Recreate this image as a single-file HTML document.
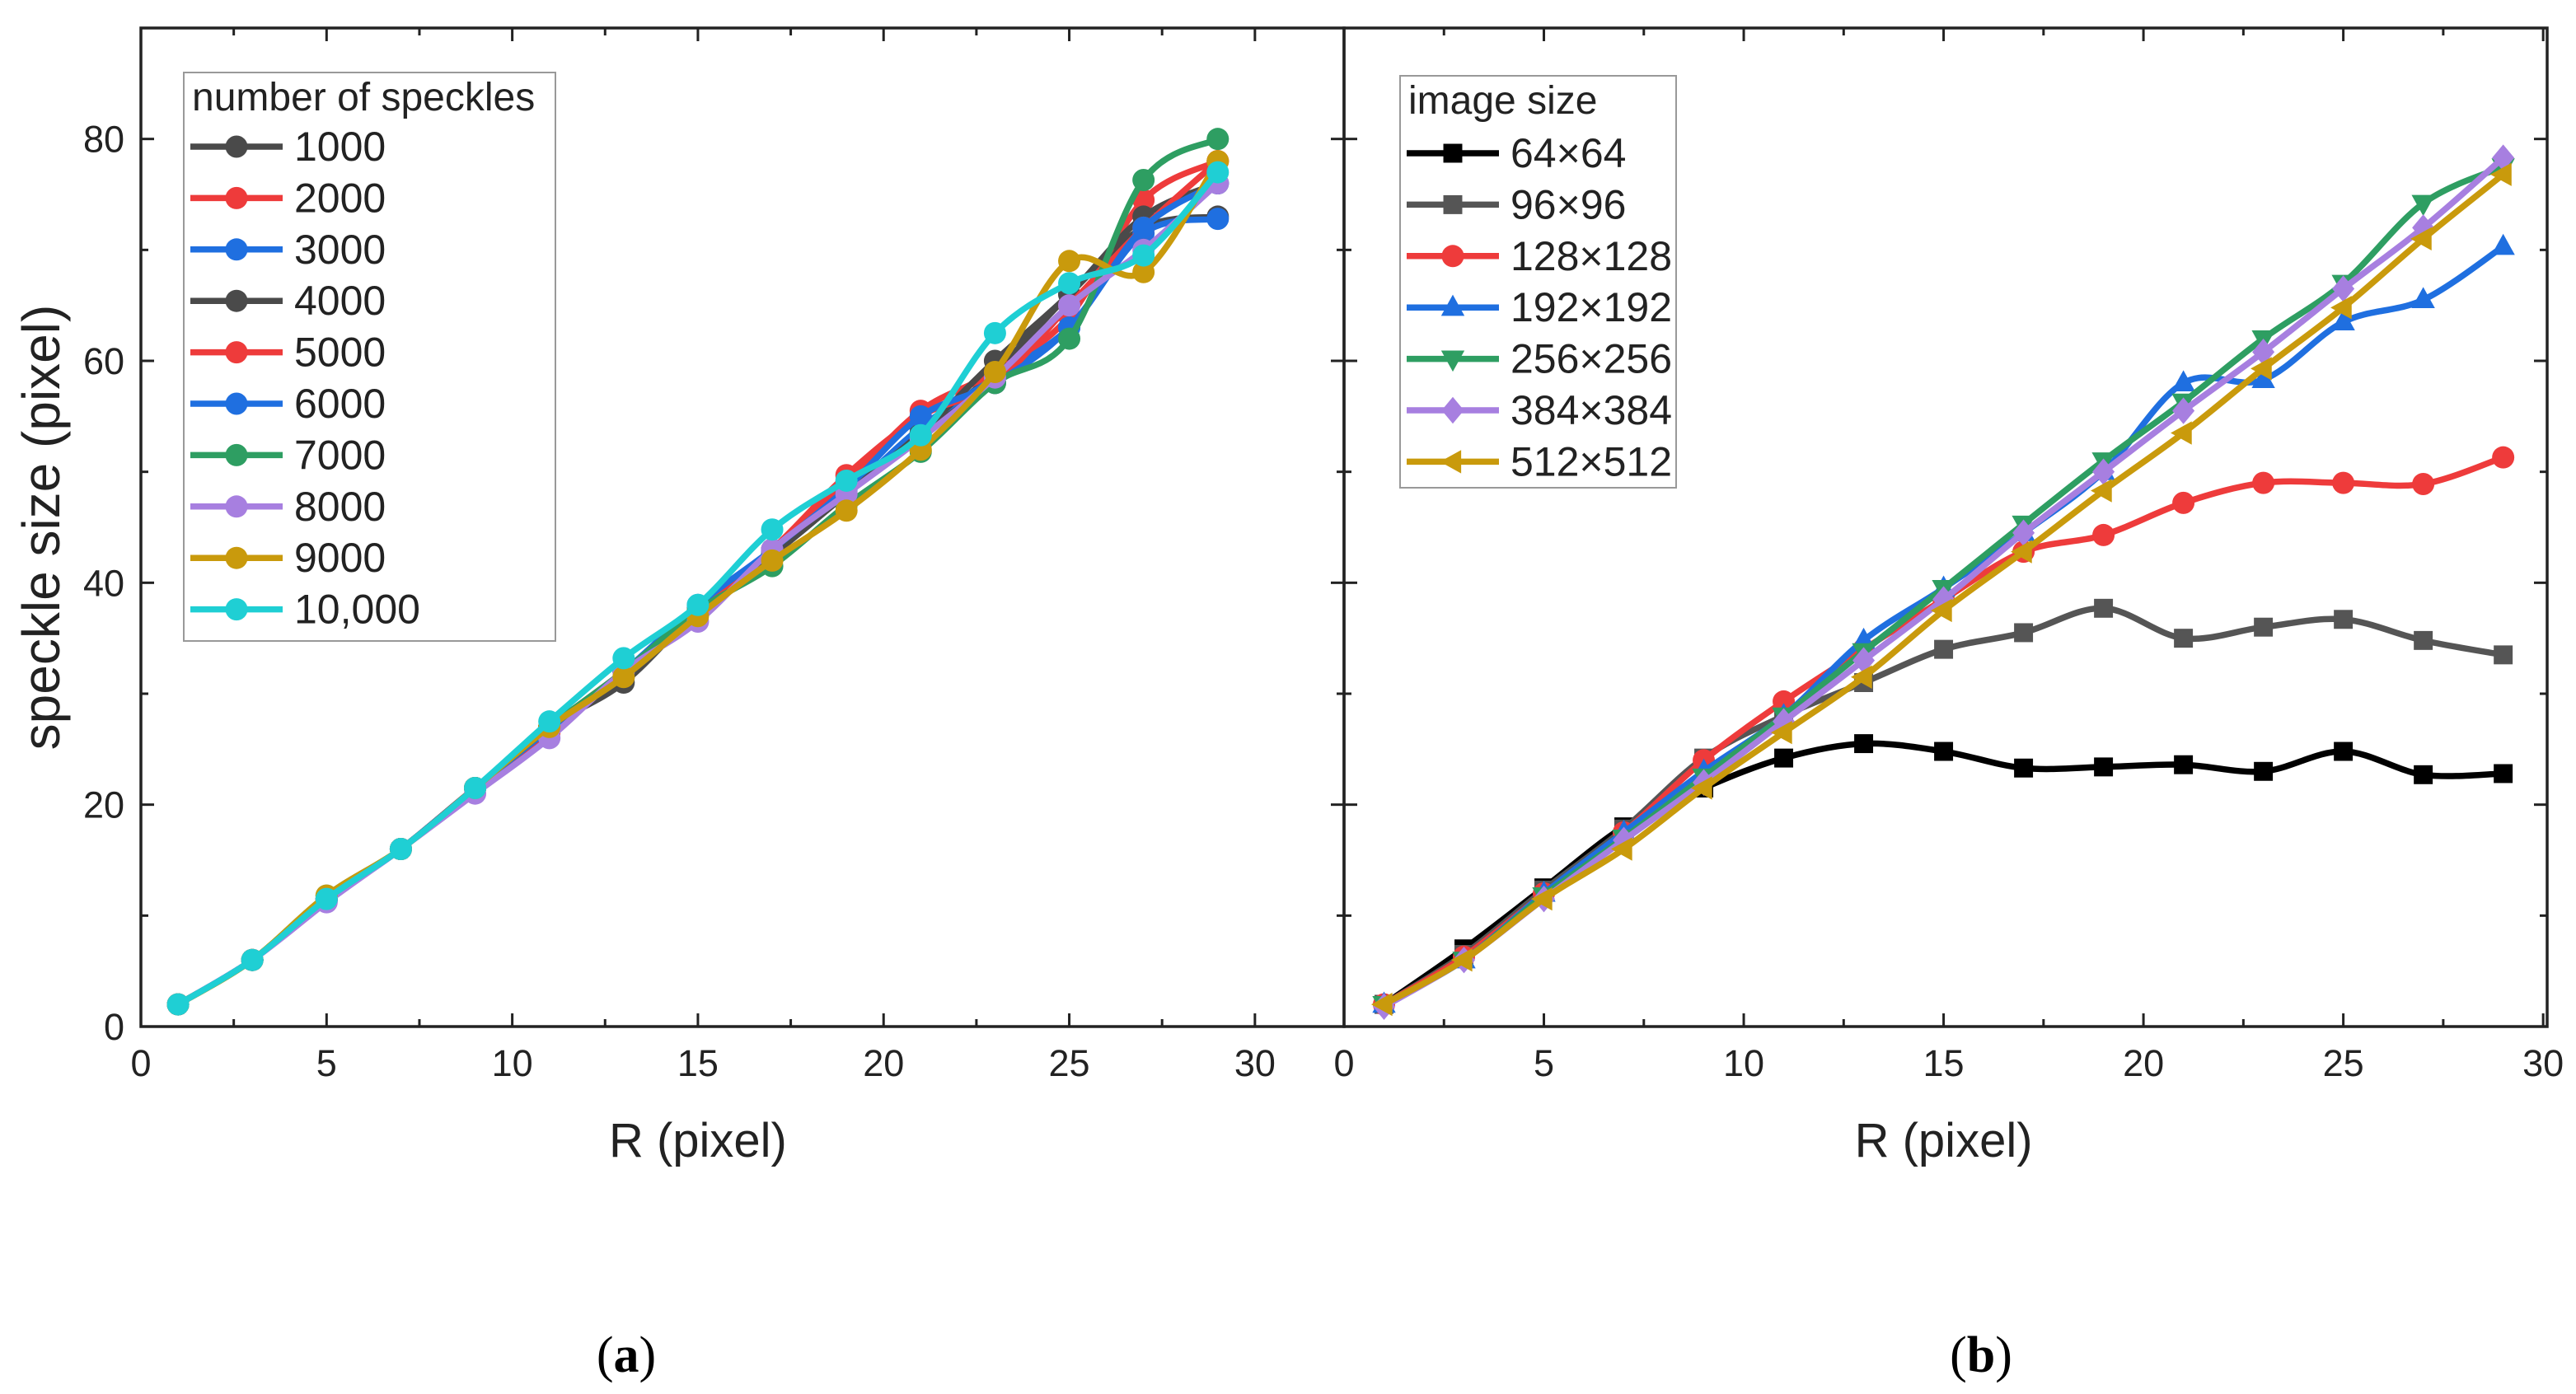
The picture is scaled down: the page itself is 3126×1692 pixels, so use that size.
<!DOCTYPE html>
<html><head><meta charset="utf-8">
<style>
html,body{margin:0;padding:0;background:#fff;}
svg{display:block;font-family:"Liberation Sans",Arial,sans-serif;}
</style></head>
<body>
<svg id="chart" width="3126" height="1692" viewBox="0 0 3126 1692" xmlns="http://www.w3.org/2000/svg">
<rect width="3126" height="1692" fill="#fff"/>
<g id="plotA"></g>
<g id="plotB"></g>
<text x="760" y="1665" font-family="Liberation Serif,serif" font-size="62" text-anchor="middle">(<tspan font-weight="bold">a</tspan>)</text>
<text x="2404" y="1665" font-family="Liberation Serif,serif" font-size="62" text-anchor="middle">(<tspan font-weight="bold">b</tspan>)</text>
</svg>
<script>
const xs = [1,3,5,7,9,11,13,15,17,19,21,23,25,27,29];
const namesA = ["1000","2000","3000","4000","5000","6000","7000","8000","9000","10,000"];
const s1000 = [2,6,11.5,16,21.5,27,31,37.5,42.5,48,53.5,59,66,72,73];
const s2000 = [2,6,11.5,16,21.5,26.5,32,37.5,43,49,55.5,59,64,74.5,78];
const s3000 = [2,6,11.3,16,21.5,26.8,32,37.5,42.8,48,54,58.5,63,71.5,72.8];
const s4000 = [2,6,11.5,16,21.5,27,31.5,37.8,42.5,48,53.5,60,66,73,76];
const s5000 = [2,6,11.5,16,21.5,27,32,37.5,43,49.7,55,58,65,72,78];
const s6000 = [2,6,11.5,16,21.5,27,32,38,43,48.5,55,58,63,72,76];
const s7000 = [2,6,11.8,16,21.5,27,32,37.5,41.5,47,51.8,58,62,76.3,80];
const s8000 = [2,6,11.2,16,21,26,32,36.5,43,48,53,58.5,65,70,76];
const s9000 = [2,6,11.8,16,21.5,27,31.5,37,42,46.5,52,59,69,68,78];
const s10000 = [2,6,11.5,16,21.5,27.5,33.2,38,44.8,49.2,53.3,62.5,67,69.5,77];
const seriesA = [s1000,s2000,s3000,s4000,s5000,s6000,s7000,s8000,s9000,s10000];
const colorsA = ["#4a4a4a","#ee3b3b","#1f6fe0","#4a4a4a","#ee3b3b","#1f6fe0","#2e9e62","#a77fe0","#c99a0c","#1fcfd4"];

const namesB = ["64×64","96×96","128×128","192×192","256×256","384×384","512×512"];
const b64 = [2,7,12.5,18,21.5,24.2,25.5,24.8,23.3,23.4,23.6,23,24.8,22.7,22.8];
const b96 = [2,6.5,12.3,17.8,24.2,28,31,34,35.5,37.7,35,36,36.7,34.8,33.5];
const b128 = [2,6.3,12,17.5,24,29.3,34,38.5,42.8,44.3,47.2,49,49,48.9,51.3];
const b192 = [2,6,12,17.5,23,28,34.8,39.5,44.5,50,58,58.3,63.5,65.5,70.3];
const b256 = [2,6,11.8,17,22.5,28,33.8,39.5,45.3,51,56.3,62,67,74.2,77.5];
const b384 = [1.8,6,11.5,16.8,22,27.5,33,38.5,44.5,50,55.5,60.8,66.5,72,78.3];
const b512 = [2,6,11.5,16,21.5,26.5,31.5,37.5,42.8,48.3,53.5,59.3,64.8,71,76.8];
const seriesB = [b64,b96,b128,b192,b256,b384,b512];
const colorsB = ["#000000","#555555","#ee3b3b","#1f6fe0","#2e9e62","#a77fe0","#c99a0c"];
const markersB = ["square","square","circle","up","down","diamond","left"];

const NS="http://www.w3.org/2000/svg";
function mk(tag,attrs,parent){const e=document.createElementNS(NS,tag);for(const k in attrs)e.setAttribute(k,attrs[k]);parent.appendChild(e);return e;}

function marker(g,type,cx,cy,color,r){
  let e;
  if(type==="circle") e=mk("circle",{cx:cx,cy:cy,r:r,fill:color},g);
  else if(type==="square") e=mk("rect",{x:cx-r*0.85,y:cy-r*0.85,width:r*1.7,height:r*1.7,fill:color},g);
  else {
    let p;
    if(type==="up") p=[[0,-1.15],[1.05,0.75],[-1.05,0.75]];
    else if(type==="down") p=[[0,1.15],[1.05,-0.75],[-1.05,-0.75]];
    else if(type==="left") p=[[-1.15,0],[0.75,-1.05],[0.75,1.05]];
    else p=[[0,-1.2],[1.0,0],[0,1.2],[-1.0,0]];
    e=mk("polygon",{points:p.map(q=>(cx+q[0]*r)+","+(cy+q[1]*r)).join(" "),fill:color},g);
  }
  return e;
}
function smooth(pts){
  let d="M"+pts[0][0]+","+pts[0][1];
  for(let i=0;i<pts.length-1;i++){
    const p0=pts[Math.max(0,i-1)],p1=pts[i],p2=pts[i+1],p3=pts[Math.min(pts.length-1,i+2)];
    const c1=[p1[0]+(p2[0]-p0[0])/6,p1[1]+(p2[1]-p0[1])/6];
    const c2=[p2[0]-(p3[0]-p1[0])/6,p2[1]-(p3[1]-p1[1])/6];
    d+=" C"+c1[0]+","+c1[1]+" "+c2[0]+","+c2[1]+" "+p2[0]+","+p2[1];
  }
  return d;
}

function panel(g,cfg){
  const L=cfg.left,R=cfg.right,T=34,B=1246;
  const sx=v=>L+(v-cfg.xmin)/(cfg.xmax-cfg.xmin)*(R-L);
  const sy=v=>B-(v-0)/(90-0)*(B-T);
  const fr=mk("rect",{x:L,y:T,width:R-L,height:B-T,fill:"none",stroke:"#222","stroke-width":3.5},g);
  
  
  for(let v=0;v<=cfg.xmax+0.01;v+=2.5){
    const x=sx(v),len=(v%5===0)?16:9;
    if(x<=L+1||x>=R-1){}else{
      mk("line",{x1:x,y1:B,x2:x,y2:B-len,stroke:"#222","stroke-width":3},g);
      mk("line",{x1:x,y1:T,x2:x,y2:T+len,stroke:"#222","stroke-width":3},g);
    }
    if(v%5===0){
      const t=mk("text",{x:x,y:B+60,"font-size":45,"text-anchor":"middle",fill:"#222"},g);
      t.textContent=v;
      
      
    }
  }
  for(let v=10;v<90;v+=10){
    const y=sy(v),len=(v%20===0)?16:9;
    mk("line",{x1:L,y1:y,x2:L+len,y2:y,stroke:"#222","stroke-width":3},g);
    mk("line",{x1:R,y1:y,x2:R-len,y2:y,stroke:"#222","stroke-width":3},g);
  }
  if(cfg.yLabels){
    for(let v=0;v<=80;v+=20){
      const t=mk("text",{x:L-20,y:sy(v)+16,"font-size":45,"text-anchor":"end",fill:"#222"},g);
      t.textContent=v;
      
      
    }
    const yt=mk("text",{x:0,y:0,"font-size":64,"text-anchor":"middle",fill:"#222",transform:"translate(72,"+((T+B)/2)+") rotate(-90)"},g);
    yt.textContent="speckle size (pixel)";
    
    
  }
  const xt=mk("text",{x:sx(15),y:1404,"font-size":58,"text-anchor":"middle",fill:"#222"},g);
  xt.textContent="R (pixel)";
  
  

  cfg.series.forEach((s,i)=>{
    const sg=mk("g",{},g);
    
    
    const pts=xs.map((x,j)=>[sx(x),sy(s[j])]);
    mk("path",{d:smooth(pts),fill:"none",stroke:cfg.colors[i],"stroke-width":7.5},sg);
    pts.forEach(p=>{
      const m=marker(sg,cfg.markers[i],p[0],p[1],cfg.colors[i],cfg.mr);
      
      
    });
  });

  const lg=mk("g",{},g);
  
  
  const lb=cfg.legend;
  mk("rect",{x:lb.x,y:lb.y,width:lb.w,height:lb.h,fill:"#fff",stroke:"#999","stroke-width":2},lg);
  const tt=mk("text",{x:lb.x+10,y:lb.y+46,"font-size":48,fill:"#222"},lg);
  tt.textContent=lb.title;
  
  
  cfg.names.forEach((n,i)=>{
    const y=lb.y0+i*62.4;
    const eg=mk("g",{},lg);
    
    
    mk("line",{x1:lb.x+8,y1:y,x2:lb.x+120,y2:y,stroke:cfg.colors[i],"stroke-width":7.5},eg);
    marker(eg,cfg.markers[i],lb.x+64,y,cfg.colors[i],cfg.mr);
    const t=mk("text",{x:lb.x+134,y:y+17,"font-size":50,fill:"#222"},eg);
    t.textContent=n;
  });
}

panel(document.getElementById("plotA"),{left:171,right:1631,xmin:0,xmax:32.4,yLabels:true,
  series:seriesA,names:namesA,colors:colorsA,markers:namesA.map(()=>"circle"),mr:13.5,
  legend:{x:223,y:88,w:451,h:690,title:"number of speckles",y0:178}});
panel(document.getElementById("plotB"),{left:1631,right:3091,xmin:0,xmax:30.1,yLabels:false,
  series:seriesB,names:namesB,colors:colorsB,markers:markersB,mr:13.5,
  legend:{x:1699,y:92,w:335,h:500,title:"image size",y0:186}});
</script>
</body></html>
